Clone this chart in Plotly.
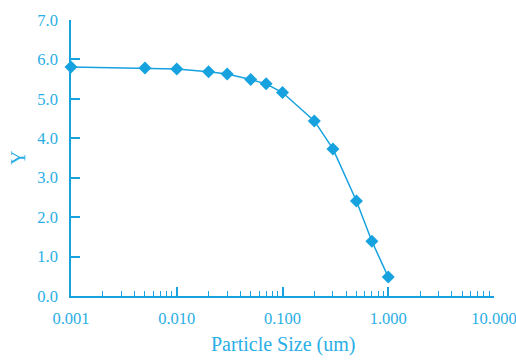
import plotly.graph_objects as go

particle_size = [0.001, 0.005, 0.01, 0.02, 0.03, 0.05, 0.07, 0.1, 0.2, 0.3, 0.5, 0.7, 1.0]
y_values = [5.81, 5.78, 5.76, 5.69, 5.63, 5.49, 5.38, 5.16, 4.44, 3.73, 2.41, 1.39, 0.48]

line_color = "#16A2DF"
text_color = "#2AAEE6"
font_family = "Liberation Serif, DejaVu Serif, serif"

fig = go.Figure()
fig.add_trace(go.Scatter(
    x=particle_size, y=y_values, mode="lines+markers",
    line=dict(color=line_color, width=1.5),
    marker=dict(symbol="diamond", size=10, color=line_color),
    cliponaxis=False, showlegend=False,
))

fig.update_layout(
    width=516, height=360,
    margin=dict(l=71, r=22, t=20, b=64),
    paper_bgcolor="white", plot_bgcolor="white",
    font=dict(family=font_family, color=text_color, size=16.5),
    xaxis=dict(
        type="log", range=[-3, 1], dtick=1, tickformat=".3f",
        automargin=False, ticklabeloverflow="allow",
        showgrid=False, zeroline=False,
        showline=True, linecolor=line_color, linewidth=1.5,
        ticks="inside", ticklen=9, tickcolor=line_color, tickwidth=1.5,
        ticklabelstandoff=6,
        minor=dict(ticks="inside", ticklen=5, tickcolor=line_color, tickwidth=1, dtick="D1", showgrid=False),
        tickfont=dict(size=16.5, color=text_color),
    ),
    yaxis=dict(
        range=[0, 7], dtick=1, tickformat=".1f",
        automargin=False,
        showgrid=False, zeroline=False,
        showline=True, linecolor=line_color, linewidth=1.5,
        ticks="inside", ticklen=9, tickcolor=line_color, tickwidth=1.5,
        ticklabelstandoff=8,
        tickfont=dict(size=16.5, color=text_color),
    ),
    annotations=[
        dict(text="Particle Size (um)", xref="paper", yref="paper", x=0.5, y=-0.132,
             xanchor="center", yanchor="top", showarrow=False, borderpad=0,
             font=dict(size=20, color=text_color, family=font_family)),
        dict(text="Y", xref="paper", yref="paper", x=0, y=0.5, xshift=-53,
             xanchor="center", yanchor="middle", textangle=-90, showarrow=False,
             font=dict(size=20, color=text_color, family=font_family)),
    ],
)

fig.write_html("out.html")
